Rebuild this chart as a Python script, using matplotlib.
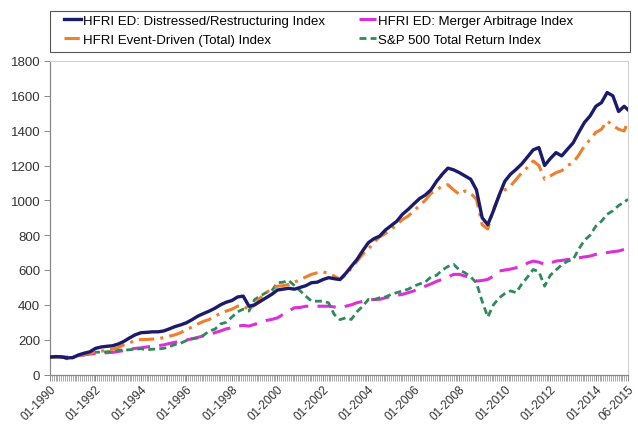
import matplotlib
matplotlib.use("Agg")
import matplotlib.pyplot as plt
import matplotlib.dates as mdates
from matplotlib.patches import Rectangle
import pandas as pd

plt.rcParams['font.family'] = ['Liberation Sans', 'DejaVu Sans']

# Quarterly observation dates (Jan/Apr/Jul/Oct) from 01-1990, plus final 06-2015
dates = list(pd.date_range("1990-01-01", "2015-04-01", freq="QS-JAN")) + [pd.Timestamp("2015-06-01")]

distressed = [
    100, 103, 101, 95,      # 1990
    97, 112, 122, 130,      # 1991
    150, 158, 162, 165,     # 1992
    175, 190, 210, 228,     # 1993
    240, 242, 245, 245,     # 1994
    250, 262, 275, 285,     # 1995
    297, 315, 335, 350,     # 1996
    364, 380, 400, 415,     # 1997
    425, 445, 450, 392,     # 1998
    400, 420, 440, 460,     # 1999
    485, 490, 495, 490,     # 2000
    500, 510, 527, 530,     # 2001
    545, 556, 550, 545,     # 2002
    580, 620, 660, 710,     # 2003
    757, 780, 795, 830,     # 2004
    855, 880, 920, 948,     # 2005
    980, 1010, 1030, 1060,  # 2006
    1110, 1150, 1185, 1175, # 2007
    1159, 1140, 1121, 1060, # 2008
    900, 860, 940, 1030,    # 2009
    1110, 1150, 1178, 1210, # 2010
    1250, 1290, 1303, 1200, # 2011
    1240, 1274, 1255, 1293, # 2012
    1330, 1390, 1447, 1485, # 2013
    1540, 1561, 1619, 1600, # 2014
    1510, 1540, 1520,       # 2015
]

event_driven = [
    100, 102, 100, 96,
    98, 108, 115, 122,
    130, 134, 138, 145,
    155, 170, 182, 195,
    201, 201, 203, 205,
    212, 220, 228, 240,
    259, 272, 290, 305,
    316, 335, 350, 364,
    375, 392, 395, 370,
    400, 440, 470, 490,
    507, 510, 517, 530,
    546, 560, 575, 584,
    590, 580, 565, 546,
    570, 610, 650, 690,
    720, 760, 790, 810,
    833, 860, 890, 910,
    940, 970, 1000, 1040,
    1060, 1082, 1090, 1060,
    1034, 1054, 1040, 1006,
    860, 835, 950, 1025,
    1060, 1082, 1120, 1160,
    1190, 1226, 1200, 1121,
    1140, 1159, 1170, 1200,
    1216, 1260, 1312, 1350,
    1390, 1408, 1456, 1430,
    1408, 1398, 1456,
]

merger_arb = [
    100, 101, 102, 100,
    104, 108, 113, 118,
    120, 123, 125, 127,
    132, 138, 145, 150,
    153, 158, 162, 165,
    170, 178, 185, 192,
    198, 205, 213, 222,
    230, 240, 250, 262,
    268, 278, 282, 278,
    288, 300, 310, 316,
    325, 345, 365, 383,
    385, 392, 392, 392,
    392, 392, 388, 383,
    392, 400, 412, 420,
    431, 430, 432, 440,
    450, 455, 460, 470,
    480, 495, 507, 520,
    535, 546, 560, 575,
    575, 565, 560, 536,
    540, 546, 565, 594,
    600, 605, 613, 620,
    640, 651, 645, 632,
    640, 651, 655, 660,
    661, 670, 675, 680,
    690, 695, 700, 705,
    709, 718, 728,
]

sp500 = [
    100, 100, 103, 90,
    96, 110, 112, 118,
    128, 128, 130, 133,
    140, 140, 142, 146,
    148, 142, 145, 147,
    150, 160, 172, 180,
    195, 205, 210, 225,
    250, 260, 290, 300,
    330, 360, 375, 364,
    431, 450, 470, 480,
    527, 530, 540, 510,
    480, 450, 421, 421,
    421, 412, 345, 315,
    325, 316, 360, 392,
    431, 430, 441, 445,
    460, 470, 480, 490,
    507, 520, 530, 560,
    570, 600, 620, 632,
    600, 584, 560, 527,
    420, 330, 400, 440,
    465, 480, 470, 520,
    560, 603, 590, 507,
    570, 600, 630, 650,
    661, 720, 770, 800,
    852, 880, 920, 940,
    970, 990, 1006,
]

series_labels = [
    "HFRI ED: Distressed/Restructuring Index",
    "HFRI Event-Driven (Total) Index",
    "HFRI ED: Merger Arbitrage Index",
    "S&P 500 Total Return Index",
]

y_ticks = [0, 200, 400, 600, 800, 1000, 1200, 1400, 1600, 1800]
x_tick_dates = [f"{y}-01-01" for y in range(1990, 2015, 2)] + ["2015-06-01"]

W, H = 638, 427
fig = plt.figure(figsize=(W / 100, H / 100), dpi=100)
ax = fig.add_axes([50 / W, 1 - 375.5 / H, 578 / W, 313.5 / H])

l1, = ax.plot(dates, distressed, color="#1B1B6B", lw=2.4, ls="-", zorder=4)
l2, = ax.plot(dates, event_driven, color="#EE7F2D", lw=2.2, ls=(0, (5, 2, 1, 2)), zorder=3)
l3, = ax.plot(dates, merger_arb, color="#DD2FD8", lw=2.2, ls=(0, (6, 3)), zorder=2)
l4, = ax.plot(dates, sp500, color="#2E8A5C", lw=2.0, ls=(0, (2.5, 1.5)), zorder=2)

ax.set_ylim(0, 1800)
ax.set_yticks(y_ticks)
ax.set_xlim(pd.Timestamp("1990-01-01"), pd.Timestamp("2015-06-01"))

ax.xaxis.set_minor_locator(mdates.MonthLocator())
ax.set_xticks([pd.Timestamp(d) for d in x_tick_dates])
ax.xaxis.set_major_formatter(mdates.DateFormatter("%m-%Y"))

ax.tick_params(axis="y", labelsize=9.5, labelcolor="#333333", length=4, width=0.7,
               color="#888888", pad=3)
ax.tick_params(axis="x", which="minor", length=4, width=0.5, color="#888888")
ax.tick_params(axis="x", which="major", labelsize=8.6, labelcolor="#333333",
               length=4, width=0.7, color="#888888", pad=2)
for lab in ax.get_xticklabels():
    lab.set_rotation(45)
    lab.set_ha("right")
    lab.set_rotation_mode("anchor")

for s in ["left", "bottom"]:
    ax.spines[s].set_color("#888888")
    ax.spines[s].set_linewidth(0.9)
for s in ["top", "right"]:
    ax.spines[s].set_color("#D0D0D0")
    ax.spines[s].set_linewidth(0.8)

# Legend frame spanning the plot width
fig.patches.append(Rectangle((50 / W, 1 - 53 / H), 580 / W, 41 / H,
                             transform=fig.transFigure, fill=False,
                             edgecolor="#555555", linewidth=0.8))

leg_kw = dict(loc="upper left", fontsize=9.5, frameon=False, handlelength=1.3,
              handletextpad=0.15, borderaxespad=0, borderpad=0, labelspacing=0.5)
fig.legend([l1, l2], series_labels[:2], bbox_to_anchor=(64 / W, 1 - 15.5 / H), **leg_kw)
fig.legend([l3, l4], series_labels[2:], bbox_to_anchor=(359 / W, 1 - 15.5 / H), **leg_kw)

fig.savefig("out.png", dpi=100)
